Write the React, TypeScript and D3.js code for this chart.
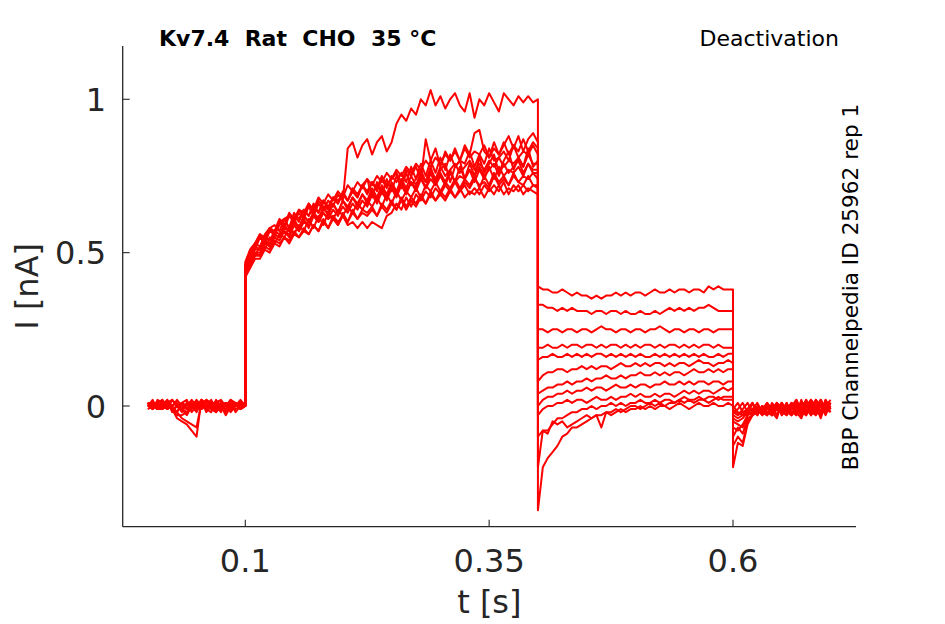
import React, { useEffect, useRef } from 'react';
import * as d3 from 'd3';

// sample spacing of the traces (s) and the start of each protocol phase
const dt = 0.005;
const phaseStart = [0, 0.1, 0.4, 0.6];

// holding current before the step, t = 0 .. 0.1
const preStep: number[][] = [
  [0.01, -0.01, 0.02, 0.01, -0.01, 0.02, 0.00, 0.01, 0.02, -0.01, 0.01, 0.00, 0.02, 0.01, -0.01, 0.01, 0.00, 0.02, 0.00, 0.01, 0.00],
  [0.00, 0.02, -0.01, 0.00, 0.01, -0.01, -0.02, 0.01, 0.00, 0.02, 0.00, 0.01, -0.01, -0.02, 0.01, 0.02, 0.00, -0.01, 0.01, 0.00, 0.01],
  [0.01, 0.00, -0.01, 0.02, -0.01, 0.00, 0.01, -0.01, -0.02, 0.00, 0.02, 0.00, -0.01, 0.01, 0.00, -0.02, 0.01, 0.00, 0.01, -0.01, 0.00],
  [-0.01, 0.00, 0.01, -0.01, 0.01, 0.02, 0.00, -0.01, 0.01, -0.02, 0.00, 0.01, 0.00, -0.01, 0.02, 0.00, -0.01, 0.01, -0.02, 0.00, 0.01],
  [0.01, 0.01, -0.01, 0.00, 0.02, -0.02, 0.00, 0.01, -0.01, 0.00, 0.01, -0.01, 0.02, 0.00, -0.01, 0.01, -0.02, 0.00, 0.01, -0.01, 0.00],
  [0.00, -0.01, 0.01, 0.02, 0.00, -0.01, 0.00, -0.02, 0.01, 0.01, -0.01, 0.02, 0.01, 0.00, -0.02, 0.00, 0.01, -0.01, 0.00, 0.02, 0.00],
  [0.01, 0.00, -0.01, 0.00, 0.02, 0.00, -0.02, 0.01, -0.01, 0.00, -0.02, 0.01, 0.00, 0.02, -0.01, 0.00, -0.03, 0.00, 0.01, -0.01, 0.01],
  [0.00, 0.01, -0.01, -0.01, 0.00, 0.02, 0.00, -0.01, -0.03, 0.00, 0.01, -0.01, 0.00, 0.01, 0.01, -0.01, 0.00, 0.02, 0.01, -0.01, 0.00],
  [0.01, -0.01, 0.01, 0.00, -0.01, 0.00, 0.02, 0.00, -0.01, 0.01, 0.00, 0.02, -0.02, 0.00, -0.01, 0.01, 0.00, -0.02, 0.00, 0.01, 0.01],
  [0.00, 0.01, -0.01, 0.00, 0.01, -0.01, -0.03, -0.03, -0.02, 0.00, -0.01, 0.01, 0.00, -0.01, -0.02, 0.00, 0.01, -0.01, 0.00, 0.01, 0.00],
  [0.01, 0.00, -0.01, 0.01, 0.00, -0.01, -0.02, -0.04, -0.05, -0.06, -0.07, 0.01, -0.01, 0.01, 0.00, -0.01, 0.01, 0.00, -0.01, 0.00, 0.00],
  [0.00, 0.01, 0.00, -0.01, 0.01, -0.01, -0.04, -0.05, -0.06, -0.08, -0.10, 0.02, 0.01, -0.01, 0.01, 0.00, -0.01, 0.01, 0.00, 0.01, 0.00],
];

// activating step, t = 0.1 .. 0.4
const activation: number[][] = [
  [0.45, 0.50, 0.52, 0.55, 0.54, 0.58, 0.56, 0.60, 0.58, 0.62, 0.60, 0.63, 0.61, 0.65, 0.62, 0.66, 0.64, 0.67, 0.65, 0.69,
   0.67, 0.84, 0.86, 0.81, 0.85, 0.87, 0.82, 0.86, 0.88, 0.83, 0.86, 0.92, 0.95, 0.93, 0.97, 0.95, 1.00, 0.98, 1.03, 0.98,
   1.01, 0.97, 1.00, 1.02, 0.98, 0.96, 1.02, 0.94, 1.00, 0.98, 1.02, 0.99, 0.96, 1.02, 1.00, 0.98, 1.01, 0.99, 1.01, 0.99, 1.00],
  [0.46, 0.51, 0.53, 0.56, 0.54, 0.58, 0.59, 0.57, 0.61, 0.62, 0.60, 0.64, 0.62, 0.66, 0.63, 0.67, 0.65, 0.64, 0.68, 0.66,
   0.70, 0.67, 0.71, 0.69, 0.72, 0.70, 0.73, 0.71, 0.75, 0.72, 0.74, 0.76, 0.73, 0.77, 0.75, 0.78, 0.74, 0.87, 0.80, 0.84,
   0.78, 0.83, 0.80, 0.84, 0.80, 0.85, 0.82, 0.89, 0.90, 0.83, 0.81, 0.86, 0.82, 0.85, 0.88, 0.84, 0.88, 0.83, 0.87, 0.89, 0.86],
  [0.44, 0.47, 0.50, 0.49, 0.53, 0.52, 0.55, 0.54, 0.57, 0.55, 0.59, 0.57, 0.60, 0.59, 0.62, 0.60, 0.63, 0.61, 0.62, 0.60,
   0.62, 0.59, 0.60, 0.58, 0.60, 0.58, 0.60, 0.59, 0.58, 0.62, 0.63, 0.66, 0.64, 0.68, 0.65, 0.69, 0.67, 0.70, 0.68, 0.71,
   0.69, 0.72, 0.70, 0.73, 0.70, 0.73, 0.71, 0.74, 0.72, 0.73, 0.71, 0.75, 0.72, 0.74, 0.72, 0.75, 0.73, 0.72, 0.75, 0.72, 0.72],
  [0.45, 0.50, 0.51, 0.55, 0.53, 0.57, 0.56, 0.59, 0.61, 0.58, 0.62, 0.60, 0.64, 0.62, 0.65, 0.63, 0.67, 0.65, 0.68, 0.66,
   0.69, 0.67, 0.70, 0.68, 0.72, 0.69, 0.73, 0.70, 0.74, 0.71, 0.75, 0.73, 0.76, 0.73, 0.78, 0.74, 0.79, 0.75, 0.80, 0.76,
   0.81, 0.77, 0.82, 0.78, 0.80, 0.79, 0.83, 0.78, 0.82, 0.79, 0.84, 0.80, 0.81, 0.83, 0.80, 0.85, 0.81, 0.83, 0.82, 0.85, 0.82],
  [0.44, 0.48, 0.51, 0.51, 0.54, 0.53, 0.56, 0.55, 0.58, 0.57, 0.60, 0.58, 0.62, 0.60, 0.63, 0.61, 0.65, 0.62, 0.66, 0.63,
   0.67, 0.65, 0.68, 0.66, 0.69, 0.67, 0.71, 0.68, 0.72, 0.69, 0.73, 0.70, 0.74, 0.71, 0.75, 0.72, 0.76, 0.73, 0.77, 0.74,
   0.78, 0.75, 0.77, 0.79, 0.76, 0.78, 0.80, 0.77, 0.79, 0.77, 0.80, 0.78, 0.81, 0.78, 0.80, 0.79, 0.81, 0.78, 0.82, 0.79, 0.79],
  [0.43, 0.47, 0.50, 0.50, 0.54, 0.52, 0.56, 0.55, 0.57, 0.56, 0.59, 0.57, 0.61, 0.58, 0.62, 0.60, 0.63, 0.61, 0.64, 0.62,
   0.65, 0.63, 0.66, 0.64, 0.67, 0.65, 0.69, 0.66, 0.70, 0.67, 0.71, 0.68, 0.72, 0.69, 0.73, 0.70, 0.74, 0.71, 0.74, 0.72,
   0.75, 0.72, 0.76, 0.73, 0.75, 0.74, 0.77, 0.73, 0.77, 0.74, 0.78, 0.74, 0.78, 0.75, 0.77, 0.76, 0.78, 0.75, 0.79, 0.76, 0.76],
  [0.44, 0.48, 0.49, 0.52, 0.51, 0.55, 0.53, 0.56, 0.55, 0.58, 0.56, 0.59, 0.57, 0.61, 0.58, 0.62, 0.59, 0.63, 0.61, 0.64,
   0.62, 0.65, 0.63, 0.66, 0.64, 0.67, 0.65, 0.68, 0.65, 0.69, 0.66, 0.70, 0.67, 0.70, 0.68, 0.71, 0.68, 0.72, 0.70, 0.73,
   0.70, 0.73, 0.71, 0.74, 0.71, 0.74, 0.72, 0.75, 0.71, 0.75, 0.72, 0.76, 0.73, 0.75, 0.72, 0.76, 0.73, 0.75, 0.74, 0.76, 0.74],
  [0.43, 0.46, 0.49, 0.49, 0.52, 0.51, 0.54, 0.53, 0.55, 0.54, 0.57, 0.55, 0.58, 0.56, 0.59, 0.57, 0.61, 0.58, 0.62, 0.59,
   0.63, 0.60, 0.64, 0.61, 0.64, 0.63, 0.65, 0.62, 0.66, 0.64, 0.67, 0.64, 0.68, 0.65, 0.68, 0.66, 0.69, 0.66, 0.70, 0.67,
   0.70, 0.68, 0.71, 0.68, 0.70, 0.72, 0.69, 0.71, 0.69, 0.72, 0.70, 0.72, 0.70, 0.73, 0.69, 0.72, 0.70, 0.72, 0.70, 0.72, 0.71],
  [0.46, 0.50, 0.53, 0.52, 0.56, 0.58, 0.55, 0.60, 0.61, 0.58, 0.63, 0.61, 0.64, 0.62, 0.66, 0.63, 0.67, 0.64, 0.68, 0.67,
   0.69, 0.67, 0.70, 0.68, 0.72, 0.74, 0.68, 0.73, 0.69, 0.74, 0.70, 0.75, 0.71, 0.76, 0.72, 0.74, 0.77, 0.73, 0.78, 0.73,
   0.77, 0.79, 0.73, 0.78, 0.80, 0.74, 0.79, 0.75, 0.81, 0.76, 0.79, 0.82, 0.76, 0.80, 0.83, 0.77, 0.81, 0.78, 0.84, 0.78, 0.80],
  [0.45, 0.49, 0.52, 0.51, 0.55, 0.54, 0.57, 0.56, 0.59, 0.57, 0.61, 0.58, 0.62, 0.60, 0.63, 0.61, 0.64, 0.63, 0.66, 0.63,
   0.67, 0.64, 0.68, 0.65, 0.69, 0.66, 0.70, 0.67, 0.71, 0.68, 0.72, 0.69, 0.73, 0.70, 0.73, 0.71, 0.75, 0.71, 0.76, 0.72,
   0.76, 0.73, 0.77, 0.73, 0.78, 0.74, 0.77, 0.75, 0.78, 0.75, 0.77, 0.79, 0.75, 0.79, 0.76, 0.78, 0.80, 0.76, 0.79, 0.77, 0.77],
  [0.42, 0.45, 0.48, 0.48, 0.51, 0.50, 0.53, 0.52, 0.55, 0.53, 0.56, 0.55, 0.57, 0.56, 0.59, 0.57, 0.60, 0.58, 0.61, 0.59,
   0.62, 0.60, 0.63, 0.61, 0.63, 0.62, 0.64, 0.62, 0.65, 0.63, 0.66, 0.64, 0.67, 0.64, 0.67, 0.65, 0.68, 0.66, 0.69, 0.67,
   0.69, 0.67, 0.70, 0.68, 0.71, 0.68, 0.70, 0.69, 0.71, 0.68, 0.71, 0.69, 0.72, 0.69, 0.71, 0.70, 0.72, 0.69, 0.71, 0.70, 0.69],
  [0.47, 0.51, 0.53, 0.56, 0.55, 0.58, 0.57, 0.61, 0.59, 0.63, 0.61, 0.64, 0.63, 0.66, 0.64, 0.68, 0.66, 0.69, 0.67, 0.70,
   0.68, 0.72, 0.70, 0.73, 0.71, 0.74, 0.72, 0.75, 0.73, 0.76, 0.74, 0.77, 0.75, 0.78, 0.76, 0.79, 0.77, 0.80, 0.78, 0.81,
   0.79, 0.82, 0.80, 0.83, 0.80, 0.84, 0.81, 0.83, 0.82, 0.85, 0.81, 0.84, 0.82, 0.86, 0.82, 0.85, 0.83, 0.87, 0.83, 0.86, 0.84],
];

// tail currents at the deactivating potentials, t = 0.4 .. 0.6
const tailStep: number[][] = [
  [0.39, 0.38, 0.38, 0.37, 0.37, 0.38, 0.37, 0.36, 0.37, 0.36, 0.36, 0.35, 0.36, 0.35, 0.36, 0.36, 0.37, 0.36, 0.37, 0.36,
   0.37, 0.37, 0.36, 0.37, 0.38, 0.37, 0.37, 0.38, 0.37, 0.38, 0.38, 0.37, 0.38, 0.38, 0.37, 0.39, 0.38, 0.39, 0.38, 0.38, 0.38],
  [0.33, 0.33, 0.32, 0.32, 0.31, 0.32, 0.31, 0.32, 0.31, 0.31, 0.31, 0.30, 0.31, 0.31, 0.30, 0.31, 0.31, 0.30, 0.31, 0.30,
   0.30, 0.31, 0.30, 0.30, 0.31, 0.30, 0.31, 0.32, 0.31, 0.32, 0.31, 0.32, 0.31, 0.32, 0.32, 0.33, 0.32, 0.31, 0.31, 0.31, 0.31],
  [0.25, 0.25, 0.24, 0.25, 0.25, 0.24, 0.25, 0.25, 0.24, 0.25, 0.25, 0.24, 0.25, 0.26, 0.25, 0.25, 0.24, 0.25, 0.25, 0.24,
   0.25, 0.25, 0.24, 0.25, 0.25, 0.26, 0.25, 0.24, 0.25, 0.25, 0.24, 0.25, 0.25, 0.24, 0.25, 0.25, 0.24, 0.25, 0.25, 0.25, 0.25],
  [0.19, 0.19, 0.20, 0.19, 0.19, 0.20, 0.19, 0.20, 0.20, 0.19, 0.20, 0.20, 0.19, 0.20, 0.19, 0.20, 0.20, 0.19, 0.20, 0.19,
   0.20, 0.19, 0.20, 0.20, 0.19, 0.20, 0.19, 0.20, 0.20, 0.19, 0.20, 0.19, 0.20, 0.19, 0.20, 0.20, 0.19, 0.20, 0.19, 0.19, 0.19],
  [0.15, 0.16, 0.16, 0.17, 0.16, 0.16, 0.17, 0.16, 0.17, 0.16, 0.17, 0.16, 0.17, 0.17, 0.16, 0.17, 0.16, 0.17, 0.16, 0.17,
   0.16, 0.17, 0.16, 0.16, 0.17, 0.16, 0.17, 0.16, 0.17, 0.16, 0.17, 0.16, 0.17, 0.16, 0.17, 0.16, 0.16, 0.17, 0.16, 0.17, 0.17],
  [0.08, 0.10, 0.11, 0.11, 0.12, 0.12, 0.11, 0.12, 0.12, 0.13, 0.12, 0.13, 0.12, 0.13, 0.13, 0.12, 0.13, 0.14, 0.13, 0.13,
   0.14, 0.13, 0.14, 0.13, 0.14, 0.14, 0.13, 0.14, 0.13, 0.14, 0.14, 0.13, 0.14, 0.15, 0.14, 0.14, 0.13, 0.14, 0.14, 0.15, 0.14],
  [0.04, 0.05, 0.06, 0.06, 0.07, 0.07, 0.08, 0.07, 0.08, 0.08, 0.09, 0.08, 0.09, 0.09, 0.10, 0.09, 0.09, 0.10, 0.09, 0.10,
   0.10, 0.11, 0.10, 0.10, 0.11, 0.10, 0.11, 0.10, 0.11, 0.11, 0.10, 0.11, 0.12, 0.11, 0.11, 0.12, 0.11, 0.12, 0.11, 0.12, 0.12],
  [0.00, 0.02, 0.03, 0.03, 0.04, 0.04, 0.05, 0.04, 0.05, 0.05, 0.06, 0.05, 0.06, 0.06, 0.05, 0.06, 0.07, 0.06, 0.06, 0.07,
   0.06, 0.07, 0.07, 0.06, 0.07, 0.07, 0.08, 0.07, 0.07, 0.08, 0.07, 0.08, 0.07, 0.08, 0.08, 0.07, 0.08, 0.08, 0.07, 0.08, 0.08],
  [-0.03, -0.01, 0.00, 0.00, 0.01, 0.01, 0.02, 0.01, 0.02, 0.02, 0.01, 0.02, 0.03, 0.02, 0.02, 0.03, 0.02, 0.03, 0.03, 0.04,
   0.03, 0.04, 0.03, 0.03, 0.04, 0.03, 0.04, 0.04, 0.03, 0.04, 0.05, 0.04, 0.05, 0.04, 0.05, 0.05, 0.04, 0.05, 0.06, 0.05, 0.06],
  [-0.10, -0.08, -0.08, -0.06, -0.04, -0.04, -0.03, -0.02, -0.02, -0.01, -0.01, 0.00, -0.01, 0.00, 0.00, 0.01, 0.00, 0.01, 0.00, 0.01,
   0.01, 0.02, 0.01, 0.01, 0.02, 0.01, 0.02, 0.02, 0.01, 0.02, 0.03, 0.02, 0.02, 0.03, 0.02, 0.03, 0.03, 0.02, 0.03, 0.03, 0.03],
  [-0.20, -0.08, -0.09, -0.05, -0.06, -0.05, -0.07, -0.06, -0.05, -0.04, -0.03, -0.04, -0.03, -0.07, -0.02, -0.02, -0.01, -0.02, -0.01, 0.00,
   0.00, -0.01, 0.00, 0.01, 0.00, 0.01, 0.00, 0.01, 0.01, 0.02, 0.01, 0.02, 0.01, 0.02, 0.02, 0.01, 0.02, 0.03, 0.02, 0.02, 0.02],
  [-0.34, -0.20, -0.17, -0.15, -0.13, -0.10, -0.09, -0.07, -0.07, -0.06, -0.05, -0.04, -0.03, -0.03, -0.02, -0.03, -0.02, -0.01, -0.02, -0.01,
   -0.01, 0.00, -0.01, 0.00, -0.01, 0.00, 0.00, -0.01, 0.00, 0.01, 0.00, -0.01, 0.00, 0.01, 0.00, 0.00, 0.01, 0.00, 0.00, 0.01, 0.00],
];

// back at holding, t = 0.6 .. 0.7
const afterStep: number[][] = [
  [-0.01, 0.01, -0.02, -0.03, 0.01, -0.02, -0.01, 0.01, -0.03, -0.01, 0.01, -0.02, -0.03, 0.01, -0.01, 0.02, -0.02, -0.03, 0.01, -0.02, 0.00],
  [0.00, -0.02, -0.03, -0.01, 0.01, -0.03, 0.00, -0.02, -0.01, 0.01, -0.03, -0.01, 0.01, -0.02, -0.04, 0.00, 0.02, -0.02, -0.03, 0.02, -0.01],
  [-0.02, -0.01, 0.01, -0.02, -0.03, 0.00, -0.02, -0.03, 0.01, -0.01, -0.02, 0.01, -0.02, -0.03, 0.01, -0.01, -0.03, 0.02, 0.00, -0.03, 0.01],
  [-0.01, -0.03, -0.01, 0.01, -0.02, -0.01, -0.03, 0.00, -0.02, -0.04, 0.01, -0.01, 0.00, -0.03, 0.02, -0.02, 0.00, -0.03, 0.02, -0.01, -0.02],
  [-0.02, -0.03, -0.02, -0.01, 0.01, -0.02, 0.00, -0.03, -0.01, 0.01, -0.02, -0.03, 0.00, 0.01, -0.02, -0.03, 0.02, 0.00, -0.04, 0.01, 0.01],
  [-0.03, -0.04, -0.03, -0.02, -0.01, 0.01, -0.02, -0.01, 0.00, -0.03, 0.01, -0.02, -0.01, 0.02, -0.03, 0.00, -0.02, 0.02, -0.02, 0.02, -0.01],
  [-0.04, -0.05, -0.04, -0.02, -0.01, -0.03, 0.00, -0.02, -0.03, 0.01, -0.01, 0.00, -0.03, -0.01, 0.01, 0.01, -0.03, 0.00, 0.02, -0.02, 0.00],
  [-0.05, -0.06, -0.07, -0.03, -0.02, -0.01, -0.02, 0.01, -0.01, -0.03, 0.00, -0.02, 0.01, -0.01, -0.03, 0.00, 0.02, -0.02, 0.00, 0.01, -0.02],
  [-0.07, -0.08, -0.06, -0.03, -0.02, -0.01, -0.03, 0.00, -0.02, 0.01, -0.03, -0.01, 0.00, 0.02, -0.01, -0.03, 0.00, -0.02, 0.02, -0.01, 0.01],
  [-0.10, -0.07, -0.09, -0.04, -0.03, -0.01, -0.02, -0.03, 0.00, -0.01, -0.02, 0.01, -0.03, 0.00, -0.01, 0.02, -0.03, 0.00, -0.02, 0.01, -0.01],
  [-0.13, -0.10, -0.12, -0.05, -0.03, -0.02, 0.00, -0.02, -0.03, 0.00, -0.01, -0.03, 0.01, -0.01, 0.00, -0.03, 0.01, -0.01, -0.03, 0.00, 0.02],
  [-0.20, -0.12, -0.13, -0.06, -0.03, -0.02, -0.01, 0.00, -0.03, -0.01, 0.01, -0.02, -0.01, 0.00, -0.03, 0.01, -0.01, 0.02, -0.02, 0.00, -0.01],
];

const xTicks = [0.1, 0.35, 0.6];
const yTicks = [0, 0.5, 1];
const titleText = 'Kv7.4  Rat  CHO  35 °C';
const protocolText = 'Deactivation';
const sourceText = 'BBP Channelpedia ID 25962 rep 1';

const width = 945;
const height = 624;

const App: React.FC = () => {
  const svgRef = useRef<SVGSVGElement | null>(null);

  useEffect(() => {
    const svg = d3.select(svgRef.current);
    svg.selectAll('*').remove();

    const left = 122.7, right = 856, top = 46, bottom = 526.7;
    const ink = '#262626';
    const font = '"DejaVu Sans", sans-serif';

    const x = d3.scaleLinear().domain([0.1, 0.6]).range([245.3, 733]);
    const y = d3.scaleLinear().domain([0, 1]).range([406, 99.3]);

    // stitch the four phases of each sweep together
    const sweeps = preStep.map((_, k) => {
      const pts: [number, number][] = [];
      [preStep[k], activation[k], tailStep[k], afterStep[k]].forEach((vals, p) => {
        vals.forEach((v, i) => pts.push([phaseStart[p] + i * dt, v]));
      });
      return pts;
    });

    const line = d3.line<[number, number]>()
      .x(d => x(d[0]))
      .y(d => y(d[1]));

    svg.append('g')
      .selectAll('path')
      .data(sweeps)
      .join('path')
      .attr('d', d => line(d))
      .attr('fill', 'none')
      .attr('stroke', '#ff0000')
      .attr('stroke-width', 2)
      .attr('stroke-linejoin', 'round');

    // spines
    svg.append('line')
      .attr('x1', left).attr('x2', left).attr('y1', top).attr('y2', bottom)
      .attr('stroke', ink).attr('stroke-width', 1.3);
    svg.append('line')
      .attr('x1', left).attr('x2', right).attr('y1', bottom).attr('y2', bottom)
      .attr('stroke', ink).attr('stroke-width', 1.3);

    // ticks point inward
    xTicks.forEach(t => {
      svg.append('line')
        .attr('x1', x(t)).attr('x2', x(t)).attr('y1', bottom).attr('y2', bottom - 7)
        .attr('stroke', ink).attr('stroke-width', 1.1);
      svg.append('text')
        .attr('x', x(t)).attr('y', 572)
        .attr('text-anchor', 'middle')
        .attr('font-family', font).attr('font-size', 32).attr('fill', ink)
        .text(String(t));
    });
    yTicks.forEach(t => {
      svg.append('line')
        .attr('x1', left).attr('x2', left + 7).attr('y1', y(t)).attr('y2', y(t))
        .attr('stroke', ink).attr('stroke-width', 1.1);
      svg.append('text')
        .attr('x', 106).attr('y', y(t) + 11.5)
        .attr('text-anchor', 'end')
        .attr('font-family', font).attr('font-size', 32).attr('fill', ink)
        .text(String(t));
    });

    svg.append('text')
      .attr('x', (left + right) / 2).attr('y', 613)
      .attr('text-anchor', 'middle')
      .attr('font-family', font).attr('font-size', 32).attr('fill', ink)
      .text('t [s]');
    svg.append('text')
      .attr('transform', `translate(38,${(top + bottom) / 2}) rotate(-90)`)
      .attr('text-anchor', 'middle')
      .attr('font-family', font).attr('font-size', 32).attr('fill', ink)
      .text('I [nA]');

    svg.append('text')
      .attr('x', 159).attr('y', 46)
      .attr('xml:space', 'preserve')
      .style('white-space', 'pre')
      .attr('font-family', font).attr('font-size', 22).attr('font-weight', 'bold').attr('fill', '#000')
      .text(titleText);
    svg.append('text')
      .attr('x', 839).attr('y', 46)
      .attr('text-anchor', 'end')
      .attr('font-family', font).attr('font-size', 22).attr('fill', '#000')
      .text(protocolText);
    svg.append('text')
      .attr('transform', 'translate(858,287) rotate(-90)')
      .attr('text-anchor', 'middle')
      .attr('font-family', font).attr('font-size', 21.6).attr('fill', '#000')
      .text(sourceText);
  }, []);

  return (
    <svg
      ref={svgRef}
      width={width}
      height={height}
      style={{ position: 'absolute', left: 0, top: 0, background: '#fff' }}
    />
  );
};

export default App;
